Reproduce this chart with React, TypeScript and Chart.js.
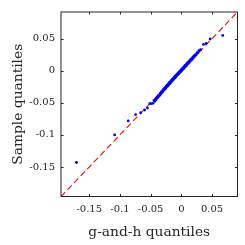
import React, { useEffect, useRef } from "react";
import { Chart, registerables } from "chart.js";

Chart.register(...registerables);

// Axis limits (same for both axes)
const axisMin = -0.196;
const axisMax = 0.0915;

// Tick values and labels
const xTickValues = [-0.15, -0.1, -0.05, 0, 0.05];
const xTickLabels = ["-0.15", "-0.1", "-0.05", "0", "0.05"];
const yTickValues = [-0.15, -0.1, -0.05, 0, 0.05];
const yTickLabels = ["-0.15", "-0.1", "-0.05", "0", "0.05"];

const xTitle = "g-and-h quantiles";
const yTitle = "Sample quantiles";

// Lower tail (theoretical, sample)
const lowTailX = [-0.1708, -0.1086, -0.0865, -0.0744, -0.0662, -0.0598, -0.0551, -0.0514, -0.0487, -0.0462];
const lowTailY = [-0.1430, -0.1000, -0.0783, -0.0684, -0.0655, -0.0612, -0.0582, -0.0513, -0.0512, -0.0508];

// Central body (theoretical, sample)
const bodyX = [
  -0.0445, -0.0432, -0.0420, -0.0409, -0.0398, -0.0388, -0.0378, -0.0368, -0.0359, -0.0350,
  -0.0341, -0.0332, -0.0324, -0.0316, -0.0308, -0.0300, -0.0292, -0.0285, -0.0277, -0.0270,
  -0.0262, -0.0255, -0.0248, -0.0241, -0.0234, -0.0227, -0.0220, -0.0213, -0.0206, -0.0199,
  -0.0192, -0.0185, -0.0178, -0.0171, -0.0164, -0.0157, -0.0150, -0.0143, -0.0136, -0.0129,
  -0.0122, -0.0115, -0.0108, -0.0101, -0.0094, -0.0087, -0.0080, -0.0073, -0.0066, -0.0059,
  -0.0052, -0.0045, -0.0038, -0.0031, -0.0024, -0.0017, -0.0010, -0.0003, 0.0004, 0.0011,
  0.0018, 0.0025, 0.0032, 0.0039, 0.0046, 0.0053, 0.0060, 0.0067, 0.0074, 0.0081,
  0.0088, 0.0095, 0.0102, 0.0110, 0.0118, 0.0126, 0.0134, 0.0142, 0.0150, 0.0159,
  0.0168, 0.0177, 0.0187, 0.0197, 0.0207, 0.0218, 0.0230, 0.0243, 0.0257, 0.0272,
];
const bodyY = [
  -0.0466, -0.0476, -0.0444, -0.0452, -0.0415, -0.0421, -0.0389, -0.0400, -0.0375, -0.0382,
  -0.0349, -0.0357, -0.0328, -0.0341, -0.0314, -0.0324, -0.0293, -0.0302, -0.0275, -0.0289,
  -0.0262, -0.0274, -0.0245, -0.0255, -0.0228, -0.0242, -0.0219, -0.0229, -0.0199, -0.0210,
  -0.0182, -0.0197, -0.0171, -0.0183, -0.0153, -0.0164, -0.0137, -0.0151, -0.0128, -0.0138,
  -0.0109, -0.0120, -0.0092, -0.0107, -0.0081, -0.0094, -0.0065, -0.0074, -0.0048, -0.0063,
  -0.0038, -0.0050, -0.0021, -0.0032, -0.0005, -0.0020, 0.0003, -0.0008, 0.0021, 0.0010,
  0.0037, 0.0022, 0.0048, 0.0035, 0.0064, 0.0053, 0.0081, 0.0066, 0.0089, 0.0079,
  0.0108, 0.0098, 0.0125, 0.0111, 0.0138, 0.0126, 0.0157, 0.0149, 0.0176, 0.0163,
  0.0190, 0.0180, 0.0212, 0.0204, 0.0235, 0.0224, 0.0252, 0.0247, 0.0282, 0.0279,
];

// Upper tail (theoretical, sample)
const highTailX = [0.0285, 0.0313, 0.0361, 0.0405, 0.0470, 0.0675];
const highTailY = [0.0312, 0.0327, 0.0409, 0.0424, 0.0494, 0.0550];

// Reference line end points
const refLineX = [axisMin, axisMax];
const refLineY = [axisMin, axisMax];

const FONT = "'DejaVu Serif', serif";
const AXIS_COLOR = "#262626";

const frameTicksPlugin = {
  id: "frameTicks",
  afterDatasetsDraw(chart: any) {
    const { ctx, chartArea } = chart;
    const { left, right, top, bottom } = chartArea;
    const xs = chart.scales.x;
    const ys = chart.scales.y;
    const tl = 2.5;
    ctx.save();
    ctx.strokeStyle = AXIS_COLOR;
    ctx.lineWidth = 1;
    ctx.beginPath();
    xTickValues.forEach((v) => {
      const px = Math.round(xs.getPixelForValue(v)) + 0.5;
      ctx.moveTo(px, bottom);
      ctx.lineTo(px, bottom - tl);
      ctx.moveTo(px, top);
      ctx.lineTo(px, top + tl);
    });
    yTickValues.forEach((v) => {
      const py = Math.round(ys.getPixelForValue(v)) + 0.5;
      ctx.moveTo(left, py);
      ctx.lineTo(left + tl, py);
      ctx.moveTo(right, py);
      ctx.lineTo(right - tl, py);
    });
    ctx.stroke();
    ctx.strokeRect(left, top, right - left, bottom - top);
    ctx.restore();
  },
};

export default function App() {
  const canvasRef = useRef<HTMLCanvasElement | null>(null);

  useEffect(() => {
    if (!canvasRef.current) return;
    const points = [
      ...lowTailX.map((x, i) => ({ x, y: lowTailY[i] })),
      ...bodyX.map((x, i) => ({ x, y: bodyY[i] })),
      ...highTailX.map((x, i) => ({ x, y: highTailY[i] })),
    ];
    const line = refLineX.map((x, i) => ({ x, y: refLineY[i] }));

    const chart = new Chart(canvasRef.current, {
      type: "scatter",
      data: {
        datasets: [
          {
            data: points,
            backgroundColor: "#0000ff",
            borderWidth: 0,
            pointRadius: 1.4,
            pointStyle: "circle",
          },
          {
            data: line,
            showLine: true,
            borderColor: "#ff0000",
            borderWidth: 1.1,
            borderDash: [6, 3.5],
            pointRadius: 0,
            fill: false,
          } as any,
        ],
      },
      options: {
        animation: false,
        responsive: true,
        maintainAspectRatio: false,
        events: [],
        layout: { padding: { top: 6.5, right: 7.5, left: 0, bottom: 0 } },
        plugins: {
          legend: { display: false },
          tooltip: { enabled: false },
        },
        scales: {
          x: {
            type: "linear",
            min: axisMin,
            max: axisMax,
            grid: { display: false, drawTicks: false },
            border: { display: false },
            afterBuildTicks: (s: any) => {
              s.ticks = xTickValues.map((v) => ({ value: v }));
            },
            afterFit: (s: any) => {
              s.height = 48.5;
            },
            ticks: {
              padding: 7,
              color: "#262626",
              font: { family: FONT, size: 10 },
              maxRotation: 0,
              autoSkip: false,
              callback: (v: any) => {
                const i = xTickValues.findIndex((t) => Math.abs(t - Number(v)) < 1e-9);
                return i >= 0 ? xTickLabels[i] : "";
              },
            },
            title: {
              display: true,
              text: xTitle,
              color: "#262626",
              font: { family: FONT, size: 13.8 },
              padding: { top: 0, bottom: 4.8 },
            },
          },
          y: {
            type: "linear",
            min: axisMin,
            max: axisMax,
            grid: { display: false, drawTicks: false },
            border: { display: false },
            afterBuildTicks: (s: any) => {
              s.ticks = yTickValues.map((v) => ({ value: v }));
            },
            afterFit: (s: any) => {
              s.width = 61;
            },
            ticks: {
              padding: 6,
              color: "#262626",
              font: { family: FONT, size: 10 },
              autoSkip: false,
              callback: (v: any) => {
                const i = yTickValues.findIndex((t) => Math.abs(t - Number(v)) < 1e-9);
                return i >= 0 ? yTickLabels[i] : "";
              },
            },
            title: {
              display: true,
              text: yTitle,
              color: "#262626",
              font: { family: FONT, size: 13.8 },
              padding: { top: 10.3, bottom: 0 },
            },
          },
        },
      },
      plugins: [frameTicksPlugin],
    });
    return () => chart.destroy();
  }, []);

  return (
    <div
      style={{
        position: "fixed",
        left: 0,
        top: 0,
        width: 245,
        height: 245,
        background: "#ffffff",
      }}
    >
      <canvas ref={canvasRef} />
    </div>
  );
}
